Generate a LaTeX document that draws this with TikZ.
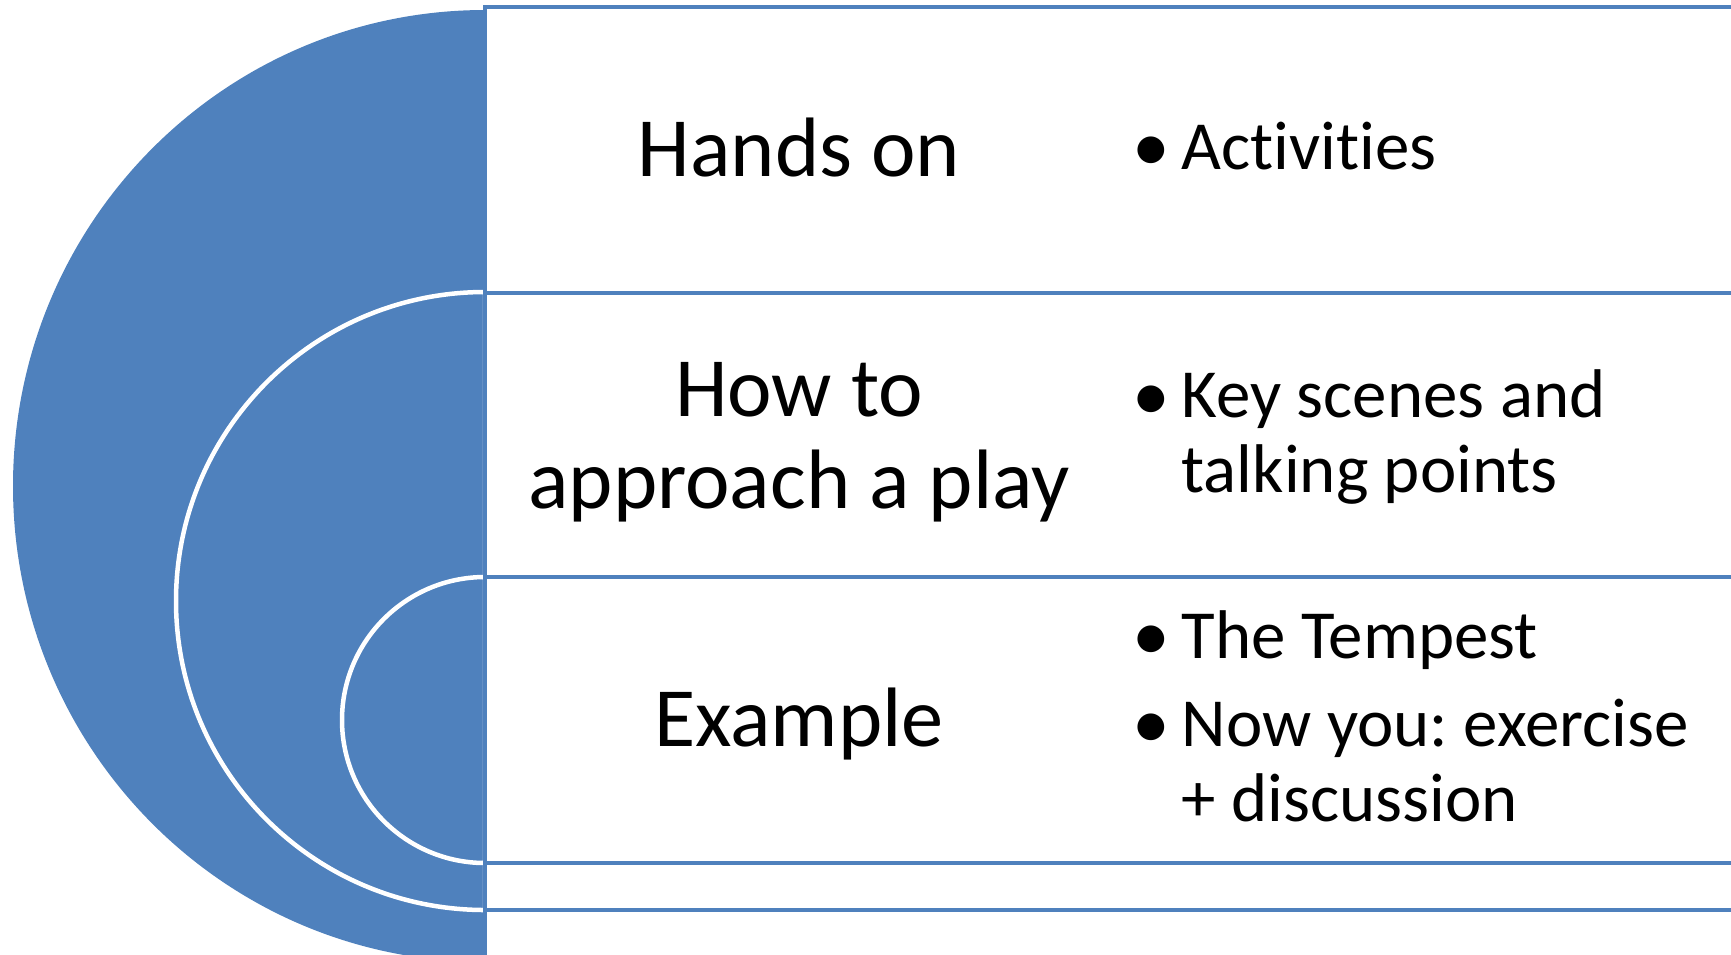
\documentclass[tikz,border=0pt]{standalone}
\usepackage{fontspec}
\setmainfont{Carlito}[Ligatures={NoCommon,NoRequired,NoContextual}]
\usetikzlibrary{positioning}
\definecolor{accent}{HTML}{4F81BD}
\newcommand{\bul}{\makebox[4.1mm][l]{\makebox[2.2mm]{\fontsize{21.5}{0}\selectfont\raisebox{-0.25mm}{•}}}}
\frenchspacing

\begin{document}
\begin{tikzpicture}[
    x=0.1mm, y=0.1mm,
    band/.style={draw=accent, line width=0.45mm, fill=white},
    halfdisc/.style={fill=accent, draw=white, line width=0.45mm},
    title/.style={font=\fontsize{24}{26.2}\selectfont, align=center, inner sep=0pt},
    points/.style={font=\fontsize{19.6}{21.3}\selectfont, align=left, anchor=west, inner sep=0pt}
]
    \clip (0,0) rectangle (1731,-954);
    % half discs, largest first
    \fill[accent] (485,-10) arc[start angle=90, end angle=270, x radius=472, y radius=476] -- cycle;
    \filldraw[halfdisc] (485,-292) arc[start angle=90, end angle=270, radius=309] -- cycle;
    \filldraw[halfdisc] (485,-577) arc[start angle=90, end angle=270, radius=143] -- cycle;
    % nested bands
    \draw[band] (485,-7) rectangle (1740,-1000);
    \draw[band] (485,-293) rectangle (1740,-910);
    \draw[band] (485,-577) rectangle (1740,-863);

    \node[title] (hands) at (799,-148) {Hands on};
    \node[title] (approach) at (799,-442) {How to\\approach a play};
    \node[title] (example) at (799,-724) {Example};

    \node[points] (activities) at (1140,-147) {\bul Activities};
    \node[points] (scenes) at (1140,-437) {\bul Key scenes and\\\hspace*{4.1mm}talking points};
    \node[points] (tempest) at (1140,-716) {\bul The Tempest\\[1.3mm]\bul Now you: exercise\\\hspace*{4.1mm}+ discussion};
\end{tikzpicture}
\end{document}
